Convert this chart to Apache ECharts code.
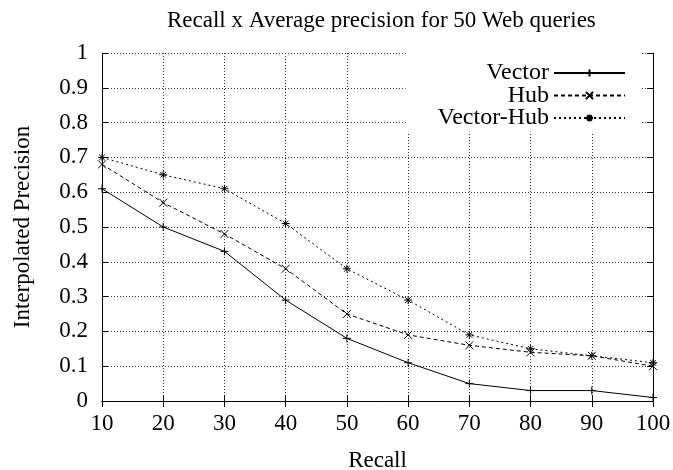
<!DOCTYPE html>
<html>
<head>
<meta charset="utf-8">
<script src="https://cdn.jsdelivr.net/npm/echarts@6/dist/echarts.min.js"></script>
<style>
  html, body { margin: 0; padding: 0; background: #fff; }
  #main { width: 673px; height: 470px; }
</style>
</head>
<body>
<div id="main"></div>
<script>
// recall levels (x) and interpolated precision per method
const recall = [10, 20, 30, 40, 50, 60, 70, 80, 90, 100];
const vector = [0.61, 0.50, 0.43, 0.29, 0.18, 0.11, 0.05, 0.03, 0.03, 0.01];
const hub = [0.68, 0.57, 0.48, 0.38, 0.25, 0.19, 0.16, 0.14, 0.13, 0.10];
const vectorHub = [0.70, 0.65, 0.61, 0.51, 0.38, 0.29, 0.19, 0.15, 0.13, 0.11];
const seriesNames = ['Vector', 'Hub', 'Vector-Hub'];

const FONT = 'Liberation Serif';
const FS = 23;

// gnuplot style point markers
const PLUS = 'path://M0,5L10,5M5,0L5,10';
const CROSS = 'path://M0,0L10,10M10,0L0,10';
const STAR = 'path://M0,5L10,5M5,0L5,10M1.5,1.5L8.5,8.5M8.5,1.5L1.5,8.5';

function pairs(ys) {
  return recall.map((x, i) => [x, ys[i]]);
}

function makeSeries(name, ys, symbol, dash) {
  return {
    name: name,
    type: 'line',
    data: pairs(ys),
    symbol: symbol,
    symbolSize: 8,
    showSymbol: true,
    lineStyle: { color: '#000', width: 1, type: dash },
    itemStyle: { color: '#000', borderColor: '#000', borderWidth: 1 },
    emphasis: { disabled: true },
    z: 3
  };
}

const frameTick = { show: true, inside: true, length: 6, lineStyle: { color: '#000' } };
const gridLine = { show: true, lineStyle: { color: '#333', type: [1, 2], width: 1 } };

const option = {
  animation: false,
  backgroundColor: '#fff',
  title: {
    text: 'Recall x Average precision for 50 Web queries',
    left: 162,
    top: 4,
    textStyle: { fontFamily: FONT, fontSize: FS, fontWeight: 'normal', color: '#000' }
  },
  legend: {
    data: seriesNames,
    orient: 'vertical',
    align: 'right',
    right: 33,
    top: 53,
    padding: [8, 14, 4, 32],
    itemGap: -1.5,
    itemWidth: 71,
    itemHeight: 9,
    backgroundColor: '#fff',
    textStyle: { fontFamily: FONT, fontSize: 24, color: '#000' },
    selectedMode: false
  },
  grid: { left: 102, right: 20, top: 53, bottom: 69, outerBoundsMode: 'none' },
  xAxis: [{
    type: 'value',
    min: 10,
    max: 100,
    interval: 10,
    name: 'Recall',
    nameLocation: 'middle',
    nameGap: 48,
    nameTextStyle: { fontFamily: FONT, fontSize: FS, color: '#000' },
    axisLine: { show: true, lineStyle: { color: '#000' } },
    axisTick: frameTick,
    axisLabel: { fontFamily: FONT, fontSize: FS, color: '#000', margin: 11 },
    splitLine: gridLine
  }, {
    type: 'value',
    position: 'top',
    min: 10,
    max: 100,
    interval: 10,
    axisLine: { show: true, lineStyle: { color: '#000' } },
    axisTick: frameTick,
    axisLabel: { show: false },
    splitLine: { show: false }
  }],
  yAxis: [{
    type: 'value',
    min: 0,
    max: 1,
    interval: 0.1,
    name: 'Interpolated Precision',
    nameLocation: 'middle',
    nameGap: 68,
    nameTextStyle: { fontFamily: FONT, fontSize: FS, color: '#000' },
    axisLine: { show: true, lineStyle: { color: '#000' } },
    axisTick: frameTick,
    axisLabel: { fontFamily: FONT, fontSize: FS, color: '#000', margin: 14 },
    splitLine: gridLine
  }, {
    type: 'value',
    position: 'right',
    min: 0,
    max: 1,
    interval: 0.1,
    axisLine: { show: true, lineStyle: { color: '#000' } },
    axisTick: frameTick,
    axisLabel: { show: false },
    splitLine: { show: false }
  }],
  series: [
    makeSeries('Vector', vector, PLUS, 'solid'),
    makeSeries('Hub', hub, CROSS, [4, 3]),
    makeSeries('Vector-Hub', vectorHub, STAR, [2, 3])
  ]
};

const chart = echarts.init(document.getElementById('main'));
chart.setOption(option);
</script>
</body>
</html>
